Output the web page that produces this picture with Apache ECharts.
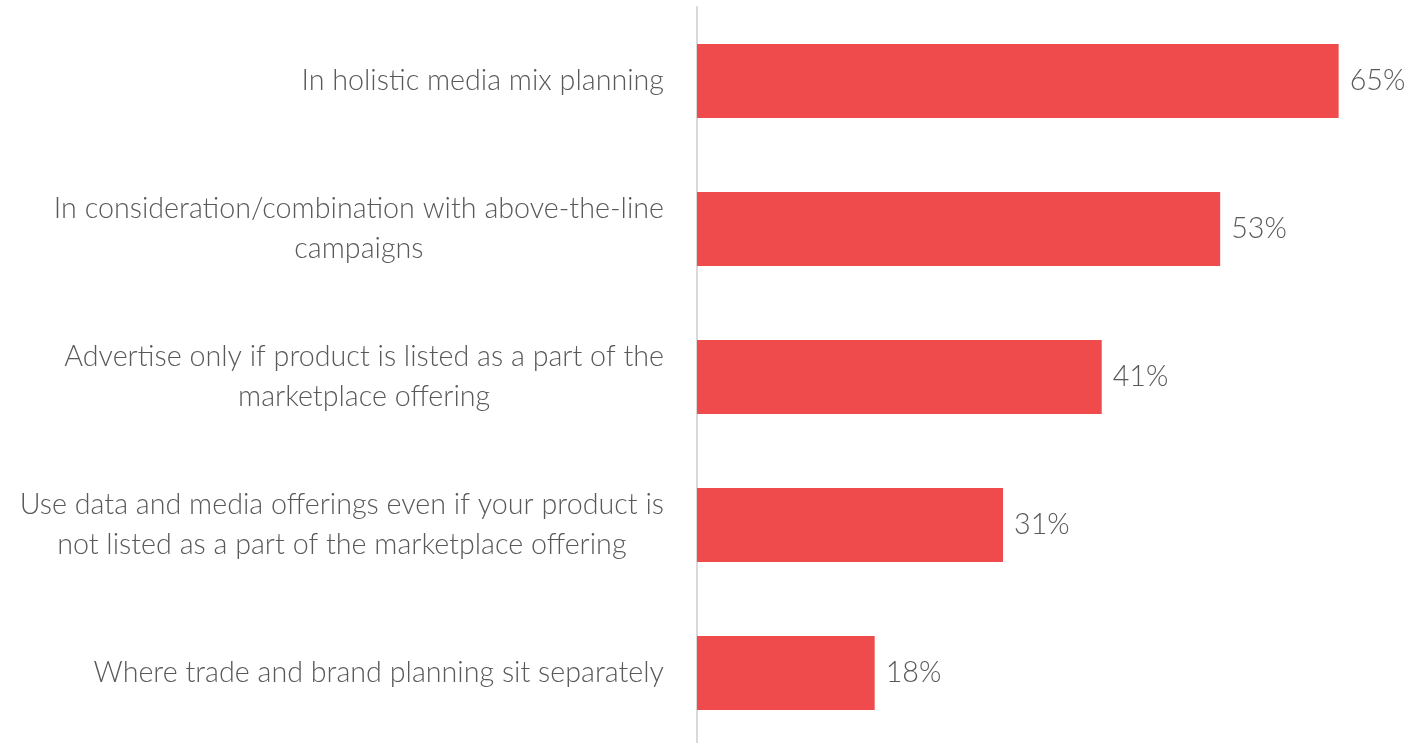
<!DOCTYPE html>
<html>
<head>
<meta charset="utf-8">
<script src="https://cdn.jsdelivr.net/npm/echarts@6/dist/echarts.min.js"></script>
<style>
  html, body { margin: 0; padding: 0; background: #ffffff; overflow: hidden; }
  /* the plot runs slightly past the bottom edge of the page */
  #chart { width: 1414px; height: 752px; }
</style>
</head>
<body>
<div id="chart"></div>
<script>
// Survey answers, top to bottom; "\n" marks where a label wraps
const categories = [
  'In holistic media mix planning',
  'In consideration/combination with above-the-line\ncampaigns',
  'Advertise only if product is listed as a part of the\nmarketplace offering',
  'Use data and media offerings even if your product is\nnot listed as a part of the marketplace offering',
  'Where trade and brand planning sit separately'
];
const shares = [65, 53, 41, 31, 18];

const textColor = '#595959';
const fontFamily = 'Lato, "Open Sans", sans-serif';
const fontSize = 28.7;
const fontWeight = 300;

const chart = echarts.init(document.getElementById('chart'), null, { renderer: 'canvas' });

chart.setOption({
  animation: false,
  grid: { left: 697, top: 7, width: 691, height: 740, containLabel: false },
  xAxis: {
    type: 'value',
    min: 0,
    max: 70,
    show: false
  },
  yAxis: {
    type: 'category',
    data: categories,
    inverse: true,
    axisLine: { show: true, lineStyle: { color: '#d9d9d9', width: 2 } },
    axisTick: { show: false },
    splitLine: { show: false },
    axisLabel: {
      margin: 33,
      color: textColor,
      fontFamily: fontFamily,
      fontSize: fontSize,
      fontWeight: fontWeight,
      lineHeight: 40,
      // each line is centred inside the right-aligned label block
      formatter: function (v) {
        return v.split('\n').map(function (l) { return '{c|' + l + '}'; }).join('\n');
      },
      rich: {
        c: {
          align: 'center',
          color: textColor,
          fontFamily: fontFamily,
          fontSize: fontSize,
          fontWeight: fontWeight,
          lineHeight: 40
        }
      }
    }
  },
  series: [{
    type: 'bar',
    data: shares,
    barWidth: 74,
    itemStyle: { color: '#f04b4c' },
    label: {
      show: true,
      position: 'right',
      distance: 11,
      color: textColor,
      fontFamily: fontFamily,
      fontSize: fontSize,
      fontWeight: fontWeight,
      formatter: '{c}%'
    }
  }]
});
</script>
</body>
</html>
